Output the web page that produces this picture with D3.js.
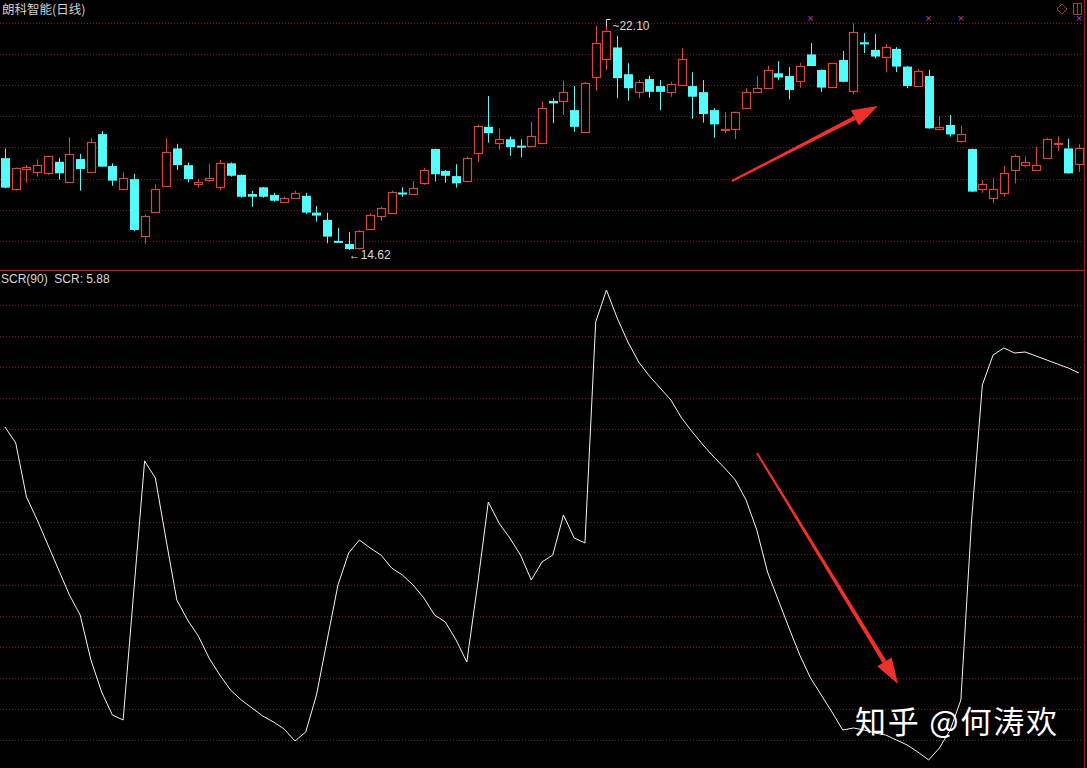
<!DOCTYPE html>
<html><head><meta charset="utf-8">
<script src="https://cdn.jsdelivr.net/npm/d3@7"></script>
<style>html,body{margin:0;padding:0;background:#000;overflow:hidden}</style>
</head><body>
<svg id="c" width="1087" height="768"></svg>
<script>
// ---- data ----
const title = "朗科智能(日线)";
const opens = [17.64,16.63,17.27,17.19,17.14,17.52,16.87,17.61,17.19,18.43,17.38,16.64,16.95,15.09,15.86,16.73,17.96,17.41,16.78,16.92,16.68,17.47,17.09,16.46,16.68,16.43,16.19,16.34,16.40,15.85,15.61,14.92,14.82,14.67,15.31,15.75,15.83,16.51,16.45,16.81,17.94,17.22,17.05,16.89,17.80,18.67,18.15,18.26,18.05,18.05,18.15,19.52,19.53,19.22,18.49,20.32,20.89,21.28,20.40,19.82,20.24,20.01,19.82,20.05,20.01,19.81,19.22,18.57,18.59,19.30,19.81,19.96,20.43,20.34,20.18,21.05,20.54,19.97,20.87,19.85,21.45,21.20,20.98,21.23,20.65,20.00,20.34,18.60,18.73,18.21,17.94,16.62,16.33,16.50,17.25,17.40,17.25,17.66,18.09,17.96,17.45];
const closes = [16.67,17.31,17.34,17.41,17.71,17.14,17.77,17.28,18.16,17.36,16.90,16.98,15.28,15.73,16.63,17.83,17.41,16.95,16.87,16.98,17.47,17.06,16.37,16.37,16.37,16.24,16.32,16.50,15.85,15.75,15.06,14.88,14.65,15.25,15.77,15.99,16.52,16.49,16.65,17.25,17.11,17.06,16.81,17.64,18.70,18.46,18.26,18.00,18.02,18.37,19.28,19.44,19.81,18.67,20.10,21.42,21.82,20.27,19.94,20.13,19.82,19.82,20.07,20.89,19.66,19.09,18.75,18.60,19.17,19.81,19.94,20.54,20.29,19.88,20.68,20.67,19.96,20.76,20.15,21.78,21.38,20.98,21.29,20.65,20.01,20.51,18.62,18.67,18.42,18.43,16.54,16.78,16.62,17.14,17.71,17.50,17.41,18.26,18.13,17.14,17.96];
const highs = [17.96,17.33,17.41,17.60,17.72,17.65,18.33,17.78,18.29,18.53,17.47,17.17,17.12,15.79,16.78,18.29,18.11,17.50,16.96,17.45,17.58,17.50,17.10,16.56,16.69,16.50,16.37,16.57,16.50,16.07,15.85,15.35,15.21,15.28,15.83,16.04,16.57,16.68,16.89,17.31,17.95,17.25,17.44,17.69,18.73,19.68,18.62,18.35,18.26,18.84,19.50,19.61,20.19,20.01,20.15,22.00,22.10,21.66,20.76,20.21,20.35,20.21,20.15,21.25,20.46,20.21,19.28,19.16,19.18,19.94,20.34,20.68,20.83,20.63,20.78,21.42,20.55,20.77,21.16,22.07,21.75,21.72,21.38,21.29,20.67,20.57,20.54,19.03,19.06,18.71,17.95,16.92,17.00,17.38,17.76,17.69,18.01,18.31,18.36,18.28,18.11];
const lows = [16.65,16.57,16.83,17.03,17.09,16.94,16.86,16.57,17.18,17.35,16.73,16.63,15.24,14.82,15.85,16.72,17.25,16.85,16.68,16.86,16.59,17.03,16.34,16.04,16.34,16.21,16.16,16.32,15.80,15.55,14.84,14.86,14.62,14.64,15.30,15.58,15.82,16.37,16.44,16.76,16.87,16.83,16.67,16.88,17.52,18.15,17.91,17.72,17.67,18.04,18.14,18.79,19.06,18.51,18.48,19.85,20.54,19.61,19.53,19.61,19.63,19.22,19.66,20.04,18.93,18.81,18.31,18.46,18.27,19.29,19.80,19.95,20.20,19.57,19.96,20.66,19.82,19.96,20.14,19.74,21.09,20.92,20.46,20.47,19.94,19.99,18.61,18.59,18.35,18.15,16.53,16.50,16.16,16.37,16.81,17.35,17.24,17.62,17.88,17.13,17.18];
const scr = [5.34,5.18,4.64,4.41,4.16,3.91,3.66,3.46,3.01,2.69,2.46,2.41,3.71,5.00,4.83,4.21,3.61,3.41,3.25,3.03,2.86,2.71,2.61,2.53,2.45,2.39,2.32,2.20,2.29,2.66,3.21,3.76,4.08,4.21,4.13,4.06,3.93,3.86,3.76,3.63,3.46,3.39,3.21,2.99,3.76,4.59,4.38,4.23,4.06,3.81,3.99,4.06,4.46,4.23,4.18,6.39,6.71,6.43,6.19,5.99,5.85,5.73,5.61,5.43,5.29,5.16,5.04,4.93,4.81,4.61,4.31,3.89,3.61,3.33,3.06,2.83,2.66,2.49,2.31,2.33,2.31,2.28,2.26,2.21,2.16,2.09,2.01,2.13,2.31,2.61,4.41,5.76,6.06,6.13,6.08,6.09,6.05,6.01,5.97,5.93,5.88];
const markerIdx = [75,86,89,100];
const lowLabel = "14.62", highLabel = "22.10";
const scrLabel = "SCR(90)  SCR: 5.88";
const watermark = "知乎 @何涛欢";

// ---- drawing ----
const svg = d3.select("#c");
const W = 1087, H = 768;
const RED = "#d8463e", CYAN = "#54fcfc", GRID = "#7a1f1f";
const x = d3.scaleLinear().domain([0, opens.length - 1]).range([5, 1079]);
const yP = d3.scaleLinear().domain([14.62, 22.10]).range([250, 22.5]);
const yS = d3.scaleLinear().domain([2.0, 6.7]).range([761, 291]);

svg.append("rect").attr("width", W).attr("height", H).attr("fill", "#000");

// grids
const gTop = d3.range(8).map(i => 23 + i * 31.1);
const gBot = d3.range(15).map(i => 305 + i * 31.07);
svg.selectAll(".gt").data(gTop.concat(gBot)).join("line")
  .attr("x1", 0).attr("x2", 1083)
  .attr("y1", d => Math.round(d) + 0.5).attr("y2", d => Math.round(d) + 0.5)
  .attr("stroke", GRID).attr("stroke-width", 1).attr("stroke-dasharray", "1,2");

// pane borders
svg.append("line").attr("x1", 0).attr("x2", 1085).attr("y1", 270.5).attr("y2", 270.5)
  .attr("stroke", "#a52222").attr("stroke-width", 1.5);
svg.append("line").attr("x1", 1084.5).attr("x2", 1084.5).attr("y1", 0).attr("y2", H)
  .attr("stroke", "#8a1e1e").attr("stroke-width", 1.5);

// candles
const idx = d3.range(opens.length);
const cg = svg.append("g");
idx.forEach(i => {
  const cx = Math.round(x(i)) + 0.5;
  const up = closes[i] >= opens[i];
  const top = yP(Math.max(opens[i], closes[i]));
  const bot = yP(Math.min(opens[i], closes[i]));
  const col = up ? RED : CYAN;
  if (up) {
    cg.append("line").attr("x1", cx).attr("x2", cx).attr("y1", yP(highs[i])).attr("y2", top).attr("stroke", col);
    cg.append("line").attr("x1", cx).attr("x2", cx).attr("y1", bot).attr("y2", yP(lows[i])).attr("stroke", col);
    cg.append("rect").attr("x", cx - 4).attr("y", Math.round(top) + 0.5).attr("width", 8)
      .attr("height", Math.max(1, Math.round(bot) - Math.round(top)))
      .attr("fill", "#000").attr("stroke", col).attr("stroke-width", 1.2);
  } else {
    cg.append("line").attr("x1", cx).attr("x2", cx).attr("y1", yP(highs[i])).attr("y2", yP(lows[i])).attr("stroke", col);
    cg.append("rect").attr("x", cx - 4.5).attr("y", top).attr("width", 9)
      .attr("height", Math.max(2, bot - top)).attr("fill", col);
  }
});

// markers
svg.selectAll(".mk").data(markerIdx).join("text")
  .attr("x", d => x(d)).attr("y", 21).attr("text-anchor", "middle")
  .attr("fill", "#c43cc4").attr("font-size", 9).attr("font-family", "DejaVu Sans")
  .text("×");

// top-right icons
svg.append("path").attr("d", "M1057,9 L1062,4 L1067,9 L1062,14 Z").attr("fill", "none").attr("stroke", "#b03a3a");
svg.append("rect").attr("x", 1073.5).attr("y", 3.5).attr("width", 8).attr("height", 11).attr("fill", "none").attr("stroke", "#b03a3a");
svg.append("line").attr("x1", 1077.5).attr("x2", 1077.5).attr("y1", 3.5).attr("y2", 14.5).attr("stroke", "#b03a3a");

// labels
const txtFont = "Liberation Sans, Arial, sans-serif";
svg.append("text").attr("x", 2).attr("y", 14).attr("fill", "#cfcfcf").attr("font-size", 12.5)
  .attr("font-family", "Noto Sans CJK SC, sans-serif").text(title);
const lowI = lows.indexOf(d3.min(lows)), highI = highs.indexOf(d3.max(highs));
svg.append("text").attr("x", x(lowI)).attr("y", 259).attr("fill", "#d8d8d8").attr("font-size", 12)
  .attr("font-family", txtFont).text("←" + lowLabel);
svg.append("path").attr("d", `M${x(highI)},${yP(highs[highI]) + 4} L${x(highI)},${yP(highs[highI]) - 3} L${x(highI) + 4},${yP(highs[highI]) - 3}`)
  .attr("fill", "none").attr("stroke", "#d8d8d8");
svg.append("text").attr("x", x(highI) + 6).attr("y", 29.5).attr("fill", "#d8d8d8").attr("font-size", 12)
  .attr("font-family", txtFont).text("~" + highLabel);
svg.append("text").attr("x", 1).attr("y", 283).attr("fill", "#d8d8d8").attr("font-size", 12)
  .attr("font-family", txtFont).attr("xml:space", "preserve").text(scrLabel);

// SCR line
svg.append("path").datum(scr)
  .attr("d", d3.line().x((d, i) => x(i)).y(d => yS(d)))
  .attr("fill", "none").attr("stroke", "#f4f4f4").attr("stroke-width", 1);

// annotation arrows
function arrow(x1, y1, x2, y2) {
  const a = Math.atan2(y2 - y1, x2 - x1), L = 26, w = 8.5;
  const bx = x2 - L * Math.cos(a), by = y2 - L * Math.sin(a);
  const nx = -Math.sin(a), ny = Math.cos(a);
  svg.append("path").attr("d", `M${x1 + nx},${y1 + ny} L${bx + nx * 2.2},${by + ny * 2.2} L${bx - nx * 2.2},${by - ny * 2.2} L${x1 - nx},${y1 - ny} Z`)
    .attr("fill", "#f0302a");
  svg.append("path").attr("d", `M${x2},${y2} L${bx + nx * w},${by + ny * w} L${bx - nx * w},${by - ny * w} Z`)
    .attr("fill", "#f0302a");
}
arrow(732, 181, 878, 106);
arrow(757, 453, 898, 684);

// watermark
svg.append("text").attr("x", 855).attr("y", 733).attr("fill", "#ffffff").attr("font-size", 31)
  .attr("letter-spacing", 1.8)
  .attr("font-family", "Noto Sans CJK SC, sans-serif").text(watermark);
</script>
</body></html>
